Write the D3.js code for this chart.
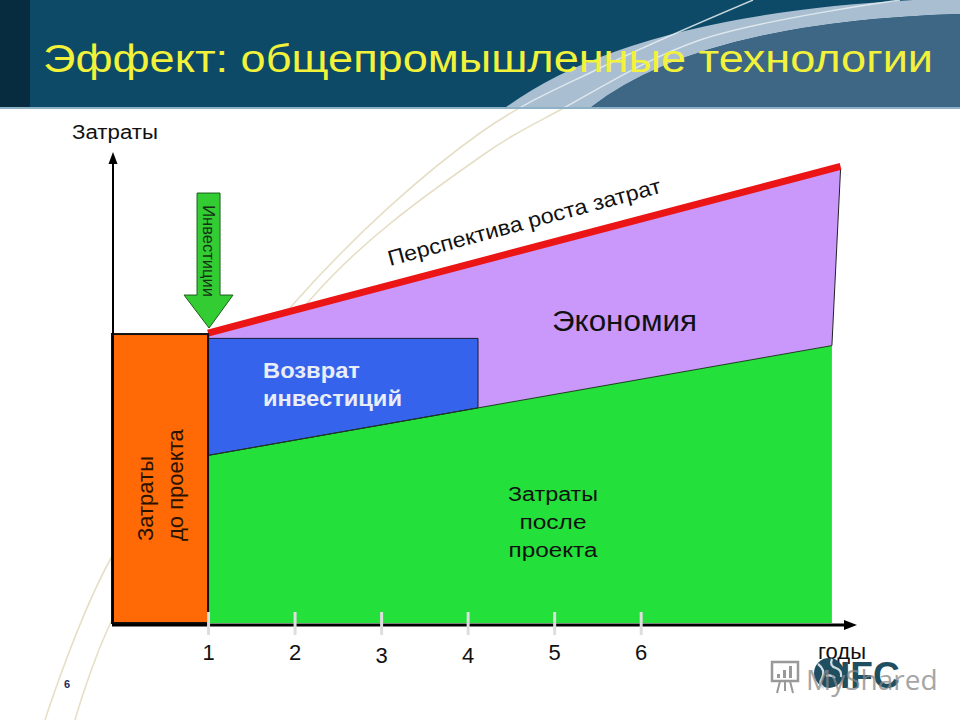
<!DOCTYPE html>
<html><head><meta charset="utf-8">
<script src="https://cdn.jsdelivr.net/npm/d3@7"></script>
<style>body{margin:0;background:#fff}svg{display:block}</style>
</head><body><svg id="c" width="960" height="720"></svg>
<script>
// ---------- data ----------
const titleText = "Эффект: общепромышленные технологии";
const yLabel = "Затраты";
const xLabel = "годы";
const years = [1, 2, 3, 4, 5, 6];
const tickLabels = ["1", "2", "3", "4", "5", "6"];
const preProjectCost = 100;              // cost level before project (orange bar)
const perspectiveYears = [1, 8.31];      // "Перспектива роста затрат" line
const perspectiveCost = [100, 157];
const afterYears = [1, 8.21];            // costs after project (green)
const afterCost = [58, 96];
const returnYears = [1, 4.12];           // investment return block (blue)
const returnTop = 98.5;
const labelsPre = ["Затраты", "до проекта"];
const labelsReturn = ["Возврат", "инвестиций"];
const labelsAfter = ["Затраты", "после", "проекта"];
const labelSaving = "Экономия";
const labelPerspective = "Перспектива роста затрат";
const labelInvest = "Инвестиции";

// ---------- setup ----------
const FONT = "'Liberation Sans', Arial, sans-serif";
const svg = d3.select("#c");
svg.append("rect").attr("width", 960).attr("height", 720).attr("fill", "#fff");

const x = d3.scaleLinear().domain([-0.11, 8.5]).range([112, 857]);
const y = d3.scaleLinear().domain([0, 163]).range([623, 152]);
const afterAt = d3.scaleLinear().domain(afterYears).range(afterCost);

// ---------- decorative background curves ----------
const curve = d3.line().curve(d3.curveCatmullRom.alpha(0.5));
const decoA = [[753,0],[600,68],[480,133],[297,300],[110,560],[45,720]];
const decoB = [[900,0],[700,40],[560,110],[480,157],[310,300],[112,620],[75,720]];
[decoA, decoB].forEach(p => svg.append("path").attr("d", curve(p))
  .attr("fill", "none").attr("stroke", "#e6dfc6").attr("stroke-width", 1.6));

// ---------- header ----------
const hdr = svg.append("g");
hdr.append("rect").attr("width", 960).attr("height", 108).attr("fill", "#0c4a67");
hdr.append("rect").attr("width", 30).attr("height", 108).attr("fill", "#072c3f");
hdr.append("path").attr("d", "M505,108 Q640,8 960,-2 L960,14 Q700,22 590,108 Z").attr("fill", "#a9bfd1");
hdr.append("path").attr("d", "M590,108 Q700,22 960,14 L960,108 Z").attr("fill", "#3e6786");
svg.append("clipPath").attr("id", "hc").append("rect").attr("width", 960).attr("height", 108);
[decoA, decoB].forEach(p => svg.append("path").attr("d", curve(p)).attr("clip-path", "url(#hc)")
  .attr("fill", "none").attr("stroke", "#e8eef2").attr("stroke-width", 1.4).attr("opacity", 0.85));
svg.append("rect").attr("x", 0).attr("y", 107).attr("width", 960).attr("height", 2).attr("fill", "#8db1c6");
svg.append("text").attr("x", 43).attr("y", 72).text(titleText)
  .attr("font-family", FONT).attr("font-size", 39).attr("fill", "#f2f23a")
  .attr("textLength", 890).attr("lengthAdjust", "spacingAndGlyphs");

// ---------- chart areas ----------
const g = svg.append("g");
const poly = d3.line().x(d => x(d[0])).y(d => y(d[1]));
// green: costs after project
const greenPts = [[afterYears[0], 0], [afterYears[0], afterCost[0]], [afterYears[1], afterCost[1]], [afterYears[1], 0]];
g.append("path").attr("d", poly(greenPts) + "Z").attr("fill", "#24e03a");
// purple: savings
const purplePts = [[perspectiveYears[0], perspectiveCost[0]], [perspectiveYears[1], perspectiveCost[1]],
  [afterYears[1], afterCost[1]], [afterYears[0], afterCost[0]]];
g.append("path").attr("d", poly(purplePts) + "Z").attr("fill", "#c998fa");
g.append("line").attr("x1", x(perspectiveYears[1])).attr("y1", y(perspectiveCost[1]))
  .attr("x2", x(afterYears[1])).attr("y2", y(afterCost[1])).attr("stroke", "#222").attr("stroke-width", 1);
// blue: investment return
const bluePts = [[returnYears[0], afterAt(returnYears[0])], [returnYears[0], returnTop],
  [returnYears[1], returnTop], [returnYears[1], afterAt(returnYears[1])]];
g.append("path").attr("d", poly(bluePts) + "Z")
  .attr("fill", "#3663ec").attr("stroke", "#1a1a2a").attr("stroke-width", 1);
// green top edge
g.append("line").attr("x1", x(afterYears[0])).attr("y1", y(afterCost[0]))
  .attr("x2", x(afterYears[1])).attr("y2", y(afterCost[1])).attr("stroke", "#1d3a1d").attr("stroke-width", 1);
// red perspective line
g.append("line").attr("x1", x(perspectiveYears[0])).attr("y1", y(perspectiveCost[0]) - 1)
  .attr("x2", x(perspectiveYears[1])).attr("y2", y(perspectiveCost[1]) - 3)
  .attr("stroke", "#ec1515").attr("stroke-width", 7);
// orange: pre-project cost
g.append("rect").attr("x", x(-0.11)).attr("y", y(preProjectCost))
  .attr("width", x(1) - x(-0.11)).attr("height", y(0) - y(preProjectCost))
  .attr("fill", "#ff6a06").attr("stroke", "#111").attr("stroke-width", 2);

// ---------- axes ----------
g.append("line").attr("x1", 112).attr("y1", y(0) + 2).attr("x2", x(8.5) - 8).attr("y2", y(0) + 2)
  .attr("stroke", "#000").attr("stroke-width", 3);
g.append("path").attr("d", `M${x(8.5)},${y(0) + 2} l-13,-5 l0,10 Z`).attr("fill", "#000");
g.append("line").attr("x1", 113).attr("y1", y(0) + 2).attr("x2", 113).attr("y2", y(163) + 8)
  .attr("stroke", "#000").attr("stroke-width", 2);
g.append("path").attr("d", `M113,${y(163)} l-4.5,12 l9,0 Z`).attr("fill", "#000");
const xAxis = d3.axisBottom(x).tickValues(years).tickFormat((d, i) => tickLabels[i]).tickSize(12).tickPadding(8);
const ax = g.append("g").attr("transform", `translate(0,${y(0) + 2})`).call(xAxis);
ax.select(".domain").remove();
ax.selectAll(".tick line").attr("y1", -13).attr("y2", 10).attr("stroke", "#dedede").attr("stroke-width", 3);
ax.selectAll(".tick text").attr("font-family", FONT).attr("font-size", 22).attr("fill", "#111")
  .attr("dy", null).attr("y", d => (d === 3 || d === 4) ? 38 : 35);
g.append("text").attr("x", 72).attr("y", 139).text(yLabel)
  .attr("font-family", FONT).attr("font-size", 20).attr("fill", "#111")
  .attr("textLength", 86).attr("lengthAdjust", "spacingAndGlyphs");
g.append("text").attr("x", 818).attr("y", 659).text(xLabel)
  .attr("font-family", FONT).attr("font-size", 22).attr("fill", "#111");

// ---------- labels ----------
const preG = g.append("g").attr("font-family", FONT).attr("font-size", 22).attr("fill", "#2a1200");
labelsPre.forEach((t, i) => preG.append("text").text(t)
  .attr("transform", `translate(${153 + i * 30},541) rotate(-90)`));
const retW = [97, 139];
const retG = g.append("g").attr("font-family", FONT).attr("font-size", 22).attr("font-weight", "bold").attr("fill", "#e8edf8");
labelsReturn.forEach((t, i) => retG.append("text").text(t).attr("x", 263).attr("y", 378 + i * 28)
  .attr("textLength", retW[i]).attr("lengthAdjust", "spacingAndGlyphs"));
const aftW = [90, 67, 89];
const aftG = g.append("g").attr("font-family", FONT).attr("font-size", 20).attr("fill", "#111").attr("text-anchor", "middle");
labelsAfter.forEach((t, i) => aftG.append("text").text(t).attr("x", 553).attr("y", 501 + i * 28)
  .attr("textLength", aftW[i]).attr("lengthAdjust", "spacingAndGlyphs"));
g.append("text").text(labelSaving).attr("x", 552).attr("y", 331)
  .attr("font-family", FONT).attr("font-size", 29).attr("fill", "#111")
  .attr("textLength", 145).attr("lengthAdjust", "spacingAndGlyphs");
g.append("text").text(labelPerspective)
  .attr("transform", `translate(390,266) rotate(-15.1)`)
  .attr("font-family", FONT).attr("font-size", 21.5).attr("fill", "#111")
  .attr("textLength", 282).attr("lengthAdjust", "spacingAndGlyphs");

// ---------- investment arrow ----------
const tx = x(1) + 1, ty = y(preProjectCost) - 6;
g.append("path")
  .attr("d", `M${tx},${ty} L${tx - 25},${ty - 33} L${tx - 12},${ty - 33} L${tx - 12},${ty - 135} L${tx + 11},${ty - 135} L${tx + 11},${ty - 33} L${tx + 24},${ty - 33} Z`)
  .attr("fill", "#33cc33").attr("stroke", "#1c5e1c").attr("stroke-width", 1);
g.append("text").text(labelInvest).attr("text-anchor", "middle")
  .attr("transform", `translate(${tx - 6},${ty - 77}) rotate(90)`)
  .attr("font-family", FONT).attr("font-size", 16.5).attr("fill", "#143014");

// ---------- footer: page number, logo, watermark ----------
svg.append("text").text("6").attr("x", 64).attr("y", 688)
  .attr("font-family", FONT).attr("font-size", 11).attr("font-weight", "bold").attr("fill", "#1b2d5c");
const logo = svg.append("g");
logo.append("circle").attr("cx", 829).attr("cy", 673).attr("r", 15).attr("fill", "#1f4e60");
logo.append("path").attr("d", "M818,664 q8,6 4,14 q-4,6 2,10 M832,659 q-3,7 4,9 q6,2 5,9 M826,676 q5,-2 9,2")
  .attr("fill", "none").attr("stroke", "#cfdde3").attr("stroke-width", 2.2);
logo.append("text").text("IFC").attr("x", 840).attr("y", 688)
  .attr("font-family", FONT).attr("font-size", 37).attr("font-weight", "bold").attr("fill", "#1f4e60");
const wm = svg.append("g").attr("opacity", 0.75);
wm.append("rect").attr("x", 772).attr("y", 662).attr("width", 26).attr("height", 19).attr("fill", "none").attr("stroke", "#777").attr("stroke-width", 2.5);
wm.append("rect").attr("x", 777).attr("y", 674).attr("width", 3).attr("height", 4).attr("fill", "#777");
wm.append("rect").attr("x", 783).attr("y", 670).attr("width", 3).attr("height", 8).attr("fill", "#777");
wm.append("rect").attr("x", 789).attr("y", 666).attr("width", 3).attr("height", 12).attr("fill", "#777");
wm.append("path").attr("d", "M780,681 l-3,12 M790,681 l3,12 M785,681 l0,10").attr("stroke", "#777").attr("stroke-width", 2);
wm.append("text").text("MyShared").attr("x", 806).attr("y", 690)
  .attr("font-family", "'Open Sans', sans-serif").attr("font-size", 28).attr("fill", "#888");
</script></body></html>
